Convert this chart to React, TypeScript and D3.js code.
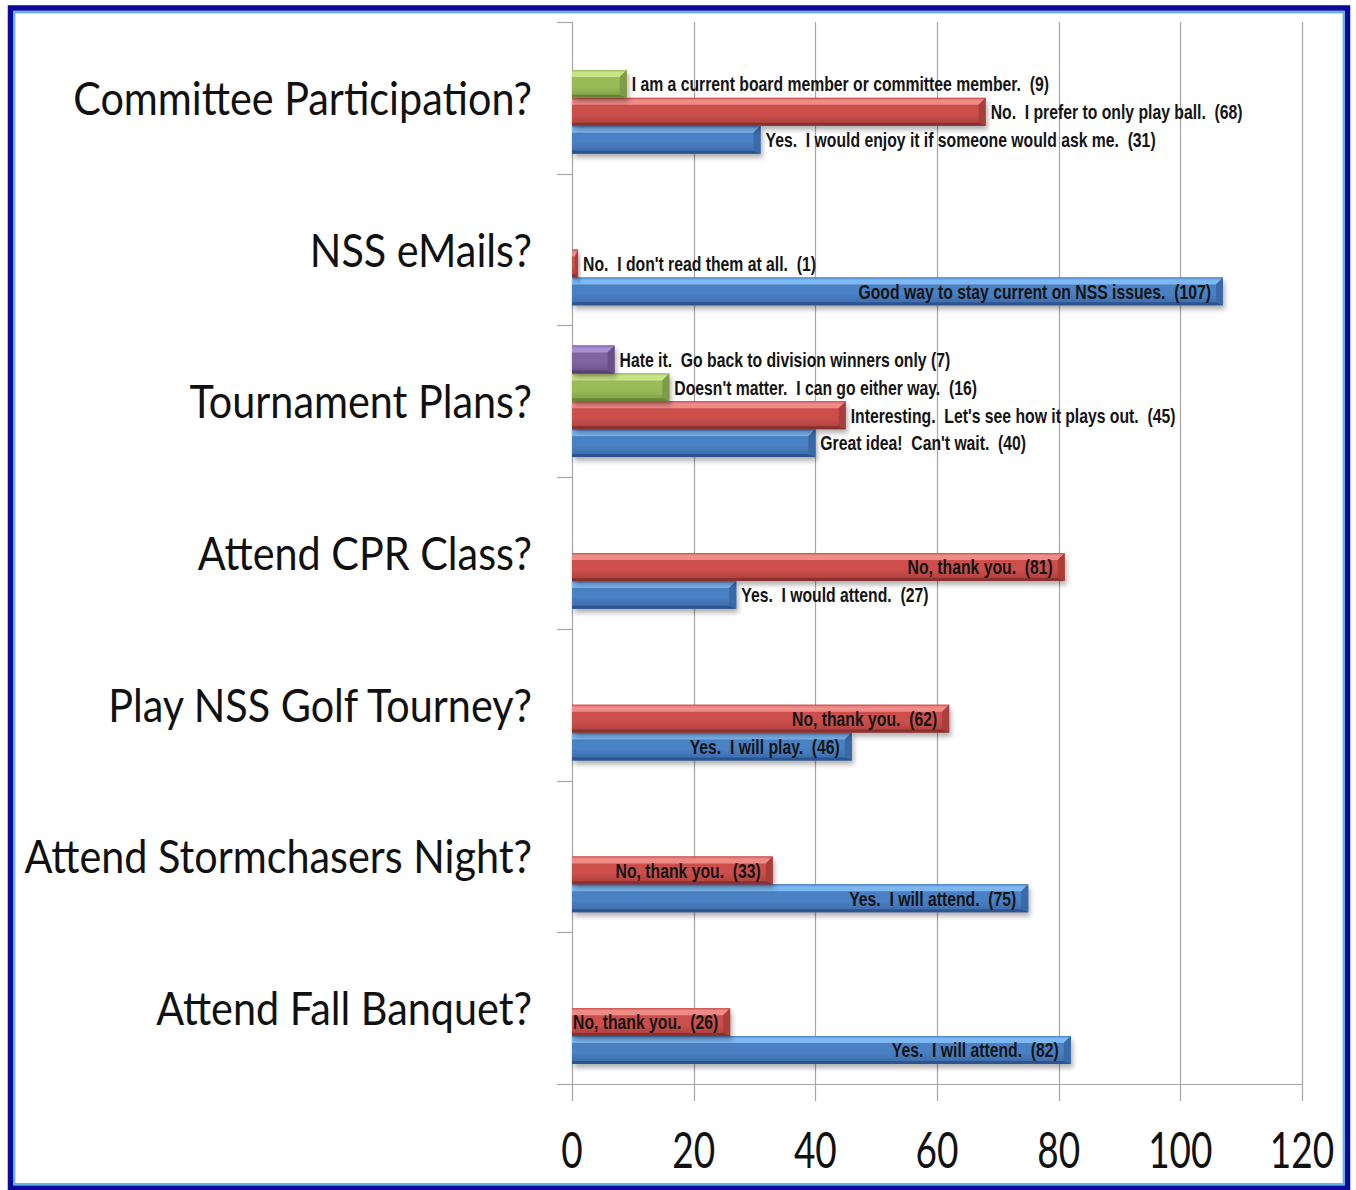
import React, { useEffect, useRef } from 'react';
import * as d3 from 'd3';

// Survey questions (top to bottom)
const categories = [
  'Committee Participation?',
  'NSS eMails?',
  'Tournament Plans?',
  'Attend CPR Class?',
  'Play NSS Golf Tourney?',
  'Attend Stormchasers Night?',
  'Attend Fall Banquet?',
];

// Series 1 (blue)
const blueValues = [31, 107, 40, 27, 46, 75, 82];
const blueLabels = [
  'Yes.  I would enjoy it if someone would ask me.  (31)',
  'Good way to stay current on NSS issues.  (107)',
  "Great idea!  Can't wait.  (40)",
  'Yes.  I would attend.  (27)',
  'Yes.  I will play.  (46)',
  'Yes.  I will attend.  (75)',
  'Yes.  I will attend.  (82)',
];
const blueInside = [false, true, false, false, true, true, true];

// Series 2 (red)
const redValues = [68, 1, 45, 81, 62, 33, 26];
const redLabels = [
  'No.  I prefer to only play ball.  (68)',
  "No.  I don't read them at all.  (1)",
  "Interesting.  Let's see how it plays out.  (45)",
  'No, thank you.  (81)',
  'No, thank you.  (62)',
  'No, thank you.  (33)',
  'No, thank you.  (26)',
];
const redInside = [false, false, false, true, true, true, true];

// Series 3 (green)
const greenValues = [9, null, 16, null, null, null, null];
const greenLabels = [
  'I am a current board member or committee member.  (9)',
  '',
  "Doesn't matter.  I can go either way.  (16)",
  '', '', '', '',
];

// Series 4 (purple)
const purpleValues = [null, null, 7, null, null, null, null];
const purpleLabels = ['', '', 'Hate it.  Go back to division winners only (7)', '', '', '', ''];

const xTicks = [0, 20, 40, 60, 80, 100, 120];

const palette: Record<string, { light: string; main: string; dark: string; edge: string }> = {
  blue: { light: '#7db8f2', main: '#4a80c4', dark: '#3a69a8', edge: '#2c5590' },
  red: { light: '#f08c88', main: '#cc4f4c', dark: '#a93e3b', edge: '#8a302e' },
  green: { light: '#c8e488', main: '#9bbb59', dark: '#7f9c45', edge: '#6a8437' },
  purple: { light: '#ab8fd4', main: '#8064a2', dark: '#684f88', edge: '#553f70' },
};

const W = 1356;
const H = 1190;

const App: React.FC = () => {
  const svgRef = useRef<SVGSVGElement>(null);

  useEffect(() => {
    if (!svgRef.current) return;
    const svg = d3.select(svgRef.current);
    svg.selectAll('*').remove();

    const plot = { left: 572, right: 1302, top: 22, bottom: 1084 };

    const series = [
      { key: 'blue', values: blueValues, labels: blueLabels, inside: blueInside },
      { key: 'red', values: redValues, labels: redLabels, inside: redInside },
      { key: 'green', values: greenValues, labels: greenLabels, inside: greenValues.map(() => false) },
      { key: 'purple', values: purpleValues, labels: purpleLabels, inside: purpleValues.map(() => false) },
    ];

    const x = d3.scaleLinear().domain([0, 120]).range([plot.left, plot.right]);
    const y = d3.scaleBand().domain(categories).range([plot.top, plot.bottom]);
    const slot = d3.scaleBand()
      .domain(['purple', 'green', 'red', 'blue'])
      .range([0, y.bandwidth()])
      .paddingInner(0)
      .paddingOuter(0.72);

    const defs = svg.append('defs');
    const blur = defs.append('filter').attr('id', 'shadowBlur')
      .attr('x', '-10%').attr('y', '-50%').attr('width', '120%').attr('height', '200%');
    blur.append('feGaussianBlur').attr('stdDeviation', 2.5);

    Object.entries(palette).forEach(([k, c]) => {
      const g = defs.append('linearGradient').attr('id', `grad-${k}`)
        .attr('x1', 0).attr('y1', 0).attr('x2', 0).attr('y2', 1);
      g.append('stop').attr('offset', '0%').attr('stop-color', c.main);
      g.append('stop').attr('offset', '60%').attr('stop-color', c.main);
      g.append('stop').attr('offset', '100%').attr('stop-color', c.dark);
      const t = defs.append('linearGradient').attr('id', `top-${k}`)
        .attr('x1', 0).attr('y1', 0).attr('x2', 0).attr('y2', 1);
      t.append('stop').attr('offset', '0%').attr('stop-color', c.main);
      t.append('stop').attr('offset', '35%').attr('stop-color', c.light);
      t.append('stop').attr('offset', '100%').attr('stop-color', c.light);
    });

    // background
    svg.append('rect').attr('width', W).attr('height', H).attr('fill', '#ffffff');

    // frame
    svg.append('rect')
      .attr('x', 10.5).attr('y', 8).attr('width', 1337).attr('height', 1180)
      .attr('fill', 'none').attr('stroke', '#0a0a9c').attr('stroke-width', 5.5);
    svg.append('rect')
      .attr('x', 14.2).attr('y', 12.2).attr('width', 1329.6).attr('height', 1172)
      .attr('fill', 'none').attr('stroke', '#62b2e6').attr('stroke-width', 2.4);

    const gridColor = '#a6a6a6';

    // vertical gridlines with ticks below the axis
    svg.append('g').selectAll('line')
      .data(xTicks)
      .enter()
      .append('line')
      .attr('x1', d => Math.round(x(d)) + 0.5)
      .attr('x2', d => Math.round(x(d)) + 0.5)
      .attr('y1', plot.top)
      .attr('y2', plot.bottom + 17)
      .attr('stroke', gridColor)
      .attr('stroke-width', 1.2);

    // horizontal axis line
    svg.append('line')
      .attr('x1', plot.left - 15).attr('x2', plot.right)
      .attr('y1', plot.bottom + 0.5).attr('y2', plot.bottom + 0.5)
      .attr('stroke', gridColor).attr('stroke-width', 1.2);

    // category separator ticks
    const bounds = categories.map(c => y(c) as number).concat([plot.bottom]);
    svg.append('g').selectAll('line')
      .data(bounds)
      .enter()
      .append('line')
      .attr('x1', plot.left - 15).attr('x2', plot.left)
      .attr('y1', d => Math.round(d) + 0.5).attr('y2', d => Math.round(d) + 0.5)
      .attr('stroke', gridColor).attr('stroke-width', 1.2);

    // x tick labels
    svg.append('g').selectAll('text')
      .data(xTicks)
      .enter()
      .append('text')
      .attr('transform', d => `translate(${x(d)},${1168}) scale(0.74,1)`)
      .attr('text-anchor', 'middle')
      .attr('font-family', 'Lato, "Open Sans", sans-serif')
      .attr('font-size', 50)
      .attr('fill', '#111')
      .text(d => d);

    // category labels
    svg.append('g').selectAll('text')
      .data(categories)
      .enter()
      .append('text')
      .attr('transform', d => `translate(532,${(y(d) as number) + y.bandwidth() / 2 + 17}) scale(0.88,1)`)
      .attr('text-anchor', 'end')
      .attr('font-family', 'Lato, "Open Sans", sans-serif')
      .attr('font-size', 47)
      .attr('fill', '#111')
      .text(d => d);

    // bars
    const barsG = svg.append('g');
    const labelsG = svg.append('g');
    const b = 7;
    const bb = 3;

    series.forEach(s => {
      const c = palette[s.key];
      s.values.forEach((v, i) => {
        if (v === null || v === undefined) return;
        const y0 = (y(categories[i]) as number) + (slot(s.key) as number);
        const h = slot.bandwidth();
        const y1 = y0 + h;
        const x0 = x(0);
        const x1 = x(v);
        const bw = Math.min(b, (x1 - x0) / 2);

        barsG.append('rect')
          .attr('x', x0 + 2).attr('y', y0 + 4)
          .attr('width', x1 - x0).attr('height', h)
          .attr('fill', '#000').attr('opacity', 0.3)
          .attr('filter', 'url(#shadowBlur)');

        barsG.append('rect')
          .attr('x', x0).attr('y', y0)
          .attr('width', x1 - x0).attr('height', h)
          .attr('fill', `url(#grad-${s.key})`);

        // top bevel
        barsG.append('polygon')
          .attr('points', [[x0, y0], [x1, y0], [x1 - bw, y0 + b], [x0, y0 + b]].map(p => p.join(',')).join(' '))
          .attr('fill', `url(#top-${s.key})`);
        // right bevel
        barsG.append('polygon')
          .attr('points', [[x1, y0], [x1, y1], [x1 - bw, y1 - bb], [x1 - bw, y0 + b]].map(p => p.join(',')).join(' '))
          .attr('fill', c.dark);
        // bottom bevel
        barsG.append('polygon')
          .attr('points', [[x0, y1], [x1, y1], [x1 - bw, y1 - bb], [x0, y1 - bb]].map(p => p.join(',')).join(' '))
          .attr('fill', c.edge);

        const inside = s.inside[i];
        const lx = inside ? x1 - 12 : x1 + 5;
        labelsG.append('text')
          .attr('transform', `translate(${lx},${(y0 + y1) / 2}) scale(0.75,1)`)
          .attr('text-anchor', inside ? 'end' : 'start')
          .attr('dominant-baseline', 'central')
          .attr('font-family', '"Liberation Sans", Arial, sans-serif')
          .attr('font-weight', 'bold')
          .attr('font-size', 21)
          .attr('fill', '#141414')
          .style('white-space', 'pre')
          .text(s.labels[i]);
      });
    });
  }, []);

  return (
    <svg
      ref={svgRef}
      width={W}
      height={H}
      style={{ position: 'absolute', left: 0, top: 0, display: 'block' }}
    />
  );
};

export default App;
